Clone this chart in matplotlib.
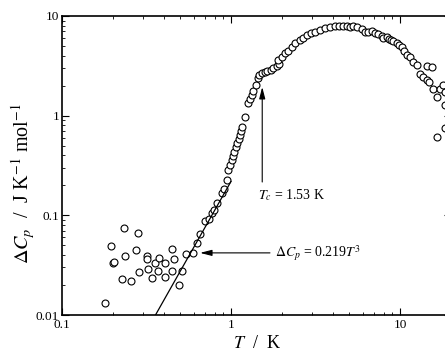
import numpy as np
import matplotlib
matplotlib.use('Agg')
import matplotlib.pyplot as plt

plt.rcParams['font.family'] = ['Liberation Serif', 'DejaVu Serif']
plt.rcParams['mathtext.fontset'] = 'stix'

# 低温散点区 (T < 1 K)
T_low = [0.180, 0.196, 0.1995, 0.203, 0.227, 0.233, 0.235, 0.257, 0.273, 0.281,
         0.287, 0.317, 0.317, 0.324, 0.342, 0.355, 0.371, 0.376, 0.407, 0.407,
         0.448, 0.448, 0.462, 0.494, 0.515, 0.539, 0.598, 0.629, 0.653, 0.702,
         0.741, 0.769, 0.797, 0.823, 0.881, 0.909, 0.943]
Cp_low = [0.0131, 0.0493, 0.0336, 0.0341, 0.0229, 0.0743, 0.0389, 0.0221, 0.0453, 0.0661,
          0.0270, 0.0394, 0.0363, 0.0290, 0.0236, 0.0331, 0.0277, 0.0374, 0.0239, 0.0331,
          0.0457, 0.0277, 0.0363, 0.0199, 0.0277, 0.0410, 0.0417, 0.0532, 0.0655, 0.0879,
          0.0921, 0.105, 0.113, 0.134, 0.167, 0.183, 0.226]

# 转变附近 (1 - 2 K)
T_mid = [0.964, 0.986, 1.01, 1.032, 1.046, 1.070, 1.090, 1.111, 1.131, 1.146,
         1.157, 1.215, 1.260, 1.296, 1.326, 1.355, 1.406, 1.439, 1.471, 1.520,
         1.589, 1.640, 1.718, 1.780, 1.864, 1.931]
Cp_mid = [0.285, 0.321, 0.360, 0.395, 0.435, 0.482, 0.528, 0.580, 0.640, 0.707,
          0.776, 0.964, 1.332, 1.460, 1.613, 1.782, 2.03, 2.37, 2.56, 2.66,
          2.76, 2.81, 2.87, 2.99, 3.15, 3.30]

# 高温区 (T > 2 K)
T_high = [1.905, 1.995, 2.087, 2.183, 2.285, 2.391, 2.559, 2.68, 2.83, 2.96,
          3.14, 3.36, 3.60, 3.85, 4.12, 4.37, 4.62, 4.88, 5.06, 5.27,
          5.54, 5.93, 6.21, 6.49, 6.80, 7.11, 7.44, 7.79, 7.96, 8.34,
          8.65, 8.85, 9.12, 9.55, 9.91, 10.24, 10.56, 10.96, 11.46, 11.99,
          12.56, 14.39, 15.40, 13.13, 13.61, 14.39, 14.91, 15.74, 16.63, 17.25,
          17.89, 18.46, 16.63, 18.46, 18.46]
Cp_high = [3.62, 3.91, 4.23, 4.49, 4.92, 5.32, 5.74, 6.06, 6.44, 6.71,
           6.96, 7.24, 7.53, 7.81, 7.94, 7.94, 7.94, 7.94, 7.81, 7.85,
           7.70, 7.41, 6.96, 6.96, 7.12, 6.71, 6.60, 6.30, 6.01, 6.20,
           5.84, 5.74, 5.65, 5.32, 5.12, 4.89, 4.49, 4.06, 3.91, 3.48,
           3.23, 3.15, 3.10, 2.62, 2.43, 2.28, 2.19, 1.84, 1.55, 1.84,
           2.03, 1.74, 0.616, 0.748, 1.28]

# 拟合线 ΔCp = 0.219 T^3
fit_coef = 0.219
fit_T = np.array([0.357, 1.0])

xticks = [0.1, 1, 10]
xticklabels = ['0.1', '1', '10']
yticks = [0.01, 0.1, 1, 10]
yticklabels = ['0.01', '0.1', '1', '10']

fig = plt.figure(figsize=(4.45, 3.53), dpi=100)
ax = fig.add_axes([62 / 445, 38 / 353, 388.9 / 445, 299 / 353])

T_all = T_low + T_mid + T_high
Cp_all = Cp_low + Cp_mid + Cp_high
ax.plot(T_all, Cp_all, 'o', mfc='white', mec='black', mew=0.8, ms=5, clip_on=True)
ax.plot(fit_T, fit_coef * fit_T ** 3, 'k-', lw=0.9)

ax.set_xscale('log')
ax.set_yscale('log')
ax.set_xlim(0.1, 20)
ax.set_ylim(0.01, 10)
ax.set_xticks(xticks)
ax.set_xticklabels(xticklabels)
ax.set_yticks(yticks)
ax.set_yticklabels(yticklabels)
ax.tick_params(which='both', direction='in', top=True, right=True, labelsize=9.5)
ax.tick_params(which='major', length=5, width=0.8)
ax.tick_params(which='minor', length=2.5, width=0.6)
ax.tick_params(axis='x', pad=3)
ax.tick_params(axis='y', pad=2)
for sp in ax.spines.values():
    sp.set_linewidth(1.2)

ax.set_xlabel(r'$T$  /  K', fontsize=13, labelpad=3)
ax.set_ylabel(r'$\Delta C_p$  /  J K$^{-1}$ mol$^{-1}$', fontsize=14.5)
ax.yaxis.set_label_coords(-0.064, 0.44)

arrow = dict(arrowstyle='-|>,head_length=0.7,head_width=0.18', color='black', lw=0.8,
             shrinkA=0, shrinkB=0)
ax.annotate('', xy=(1.53, 1.94), xytext=(1.53, 0.216), arrowprops=arrow)
ax.text(1.445, 0.160, r'$T_c$ = 1.53 K', fontsize=10, va='center', ha='left')
ax.annotate('', xy=(0.656, 0.042), xytext=(1.70, 0.042), arrowprops=arrow)
ax.text(1.82, 0.042, r'$\Delta C_p$ = 0.219$T^3$', fontsize=10, va='center', ha='left')

plt.savefig('out.png', dpi=100)
